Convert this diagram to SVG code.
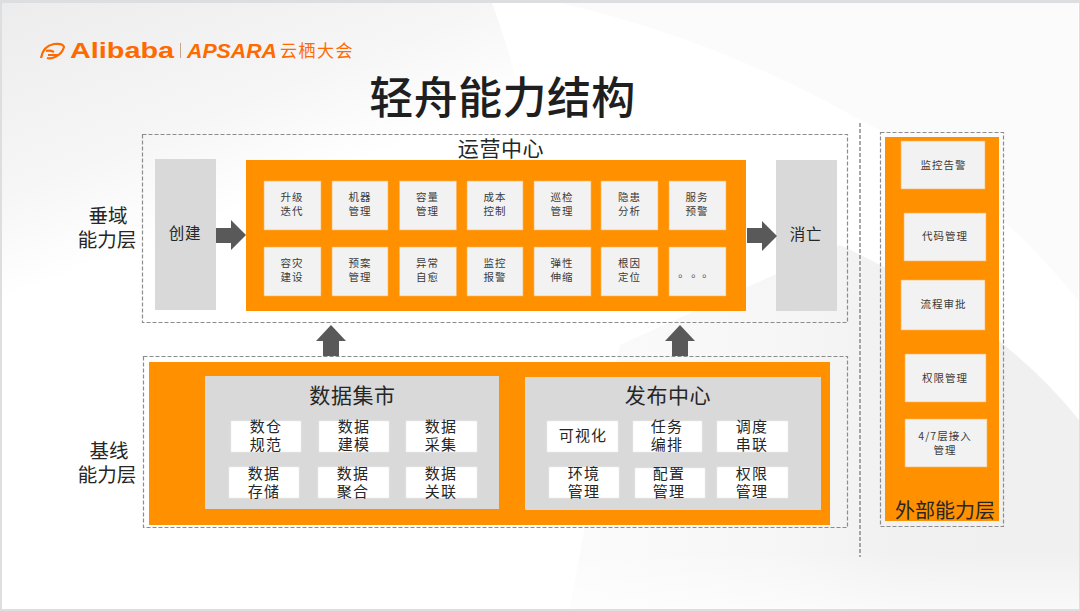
<svg xmlns="http://www.w3.org/2000/svg" width="1080" height="611" viewBox="0 0 1080 611">
<style>
text{font-family:"Noto Sans CJK SC","Noto Sans",sans-serif;fill:#262626;text-anchor:middle}
.dash{fill:none;stroke:#8c8c8c;stroke-width:1.2;stroke-dasharray:4 2}
.or{fill:#ff9000}
.tile{fill:#f2f2f2;stroke:#ffb65c;stroke-width:.6}
.gray{fill:#d9d9d9}
.wt{fill:#fff;stroke:#eee;stroke-width:.6}
.s{font-size:10.5px;letter-spacing:1px;fill:#3a3a3a}
.m{font-size:15px;letter-spacing:1.2px}
.c{font-size:15.5px;letter-spacing:.8px}
.l{font-size:19.500px}
.h{font-size:21px;letter-spacing:.6px}
.ar{fill:#595959}
.logo{font-family:"Liberation Sans",sans-serif;font-weight:700;text-anchor:start}
</style>
<defs>
<linearGradient id="bg" gradientUnits="userSpaceOnUse" x1="0" y1="0" x2="120" y2="310"><stop offset="0" stop-color="#ececec"/><stop offset=".55" stop-color="#f6f6f6"/><stop offset=".85" stop-color="#ffffff"/></linearGradient>
<linearGradient id="bg2" gradientUnits="userSpaceOnUse" x1="570" y1="0" x2="1000" y2="0"><stop offset="0" stop-color="#fbfbfb"/><stop offset=".5" stop-color="#f6f6f6"/><stop offset=".75" stop-color="#f1f1f1"/><stop offset="1" stop-color="#f0f0f0"/></linearGradient>
<linearGradient id="bg3" x1="0" y1="0" x2="0" y2="1"><stop offset="0" stop-color="#fff" stop-opacity="0"/><stop offset="1" stop-color="#fff" stop-opacity=".6"/></linearGradient>
</defs>
<g id="background">
<rect width="1080" height="611" fill="#dcdee0"/>
<rect x="2" y="3" width="1077" height="606" fill="#fff"/>
<path d="M2 3H492Q540 130 560 350L2 300Z" fill="url(#bg)"/>
<path d="M560 3H1078V300Q980 180 860 120Q720 40 560 3Z" fill="#fbfbfb"/>
<path d="M620 345L840 245Q1000 320 1079 420V609H570Q600 440 620 345Z" fill="url(#bg2)"/>
<rect x="560" y="550" width="519" height="59" fill="url(#bg3)"/>
</g>
<g id="logo">
<path d="M41 58Q43 46 54 44Q63 43 64 47Q62 54 55 57Q51 59 47 58M46 51Q50 50 54 52M48 55L58 55" fill="none" stroke="#ff6a00" stroke-width="2.2"/>
<text class="logo" x="70" y="58" font-size="22" textLength="104" lengthAdjust="spacingAndGlyphs" style="fill:#ff6a00">Alibaba</text>
<rect x="180" y="43" width="1" height="15" fill="#c9a58c"/>
<text class="logo" x="187" y="58" font-size="21" font-style="italic" textLength="90" lengthAdjust="spacingAndGlyphs" style="fill:#ff6a00">APSARA</text>
<text x="317" y="57" font-size="17" letter-spacing="1.500" style="fill:#ff6a00">云栖大会</text>
</g>
<text id="title" x="502.500" y="114" font-size="44" font-weight="500" letter-spacing=".4" style="fill:#1f1f1f">轻舟能力结构</text>
<g id="label-vertical"><text class="l"><tspan x="108" y="223">垂域</tspan><tspan x="107" y="247">能力层</tspan></text></g>
<g id="label-base"><text class="l"><tspan x="109" y="458">基线</tspan><tspan x="107" y="482">能力层</tspan></text></g>
<g id="frame-ops"><rect class="dash" x="142.500" y="134.500" width="705" height="188"/><text class="h" x="501" y="156">运营中心</text></g>
<g id="node-create"><rect class="gray" x="155" y="159" width="61" height="151"/><text class="c" x="185" y="239">创建</text></g>
<g id="node-destroy"><rect class="gray" x="776" y="160" width="61" height="151"/><text class="c" x="806" y="240">消亡</text></g>
<g id="ops-center">
<rect class="or" x="246" y="160" width="500" height="151"/>
<g id="t1"><rect class="tile" x="264" y="181" width="57" height="49"/><text class="s"><tspan x="292" y="201">升级</tspan><tspan x="292" y="215">迭代</tspan></text></g>
<g id="t2"><rect class="tile" x="332" y="181" width="56" height="49"/><text class="s"><tspan x="360" y="201">机器</tspan><tspan x="360" y="215">管理</tspan></text></g>
<g id="t3"><rect class="tile" x="399.500" y="181" width="57" height="49"/><text class="s"><tspan x="427.500" y="201">容量</tspan><tspan x="427.500" y="215">管理</tspan></text></g>
<g id="t4"><rect class="tile" x="467" y="181" width="56" height="49"/><text class="s"><tspan x="495" y="201">成本</tspan><tspan x="495" y="215">控制</tspan></text></g>
<g id="t5"><rect class="tile" x="534" y="181" width="57" height="49"/><text class="s"><tspan x="562" y="201">巡检</tspan><tspan x="562" y="215">管理</tspan></text></g>
<g id="t6"><rect class="tile" x="601" y="181" width="57" height="49"/><text class="s"><tspan x="629.500" y="201">隐患</tspan><tspan x="629.500" y="215">分析</tspan></text></g>
<g id="t7"><rect class="tile" x="669" y="181" width="57" height="49"/><text class="s"><tspan x="697" y="201">服务</tspan><tspan x="697" y="215">预警</tspan></text></g>
<g id="t8"><rect class="tile" x="264" y="247" width="57" height="49"/><text class="s"><tspan x="292" y="267">容灾</tspan><tspan x="292" y="281">建设</tspan></text></g>
<g id="t9"><rect class="tile" x="332" y="247" width="56" height="49"/><text class="s"><tspan x="360" y="267">预案</tspan><tspan x="360" y="281">管理</tspan></text></g>
<g id="t10"><rect class="tile" x="399.500" y="247" width="57" height="49"/><text class="s"><tspan x="427.500" y="267">异常</tspan><tspan x="427.500" y="281">自愈</tspan></text></g>
<g id="t11"><rect class="tile" x="467" y="247" width="56" height="49"/><text class="s"><tspan x="495" y="267">监控</tspan><tspan x="495" y="281">报警</tspan></text></g>
<g id="t12"><rect class="tile" x="534" y="247" width="57" height="49"/><text class="s"><tspan x="562" y="267">弹性</tspan><tspan x="562" y="281">伸缩</tspan></text></g>
<g id="t13"><rect class="tile" x="601" y="247" width="57" height="49"/><text class="s"><tspan x="629.500" y="267">根因</tspan><tspan x="629.500" y="281">定位</tspan></text></g>
<g id="t14"><rect class="tile" x="669" y="247" width="57" height="49"/><text class="s" x="684 697 708" y="277">。。。</text></g>
</g>
<g id="connectors">
<path class="ar" d="M216 228H231V220L246 235L231 250V243H216Z"/>
<path class="ar" d="M747 228H762V221L777 236L762 251V243H747Z"/>
<path class="ar" d="M331 325L346 341H339V356H323V341H316Z"/>
<path class="ar" d="M680 325L695 341H688V356H672V341H665Z"/>
<path class="dash" d="M860 123V557" style="stroke-width:1.5"/>
</g>
<g id="base-layer">
<rect class="dash" x="143.500" y="356.500" width="704" height="171"/>
<rect class="or" x="149" y="362" width="681" height="163"/>
</g>
<g id="data-mart">
<rect class="gray" x="205" y="376" width="294" height="133"/>
<text class="h" x="352.500" y="403">数据集市</text>
<g id="d1"><rect class="wt" x="231" y="421" width="70" height="31"/><text class="m"><tspan x="266" y="432">数仓</tspan><tspan x="266" y="450">规范</tspan></text></g>
<g id="d2"><rect class="wt" x="319" y="421" width="70" height="31"/><text class="m"><tspan x="354" y="432">数据</tspan><tspan x="354" y="450">建模</tspan></text></g>
<g id="d3"><rect class="wt" x="406" y="421" width="71" height="31"/><text class="m"><tspan x="441" y="432">数据</tspan><tspan x="441" y="450">采集</tspan></text></g>
<g id="d4"><rect class="wt" x="229" y="467" width="70" height="31"/><text class="m"><tspan x="264" y="479">数据</tspan><tspan x="264" y="497">存储</tspan></text></g>
<g id="d5"><rect class="wt" x="318" y="467" width="71" height="31"/><text class="m"><tspan x="353" y="479">数据</tspan><tspan x="353" y="497">聚合</tspan></text></g>
<g id="d6"><rect class="wt" x="406" y="467" width="71" height="31"/><text class="m"><tspan x="441" y="479">数据</tspan><tspan x="441" y="497">关联</tspan></text></g>
</g>
<g id="release-center">
<rect class="gray" x="525" y="377" width="296" height="133"/>
<text class="h" x="668" y="403">发布中心</text>
<g id="r1"><rect class="wt" x="547" y="421" width="71" height="31"/><text class="m" x="583" y="441">可视化</text></g>
<g id="r2"><rect class="wt" x="633" y="421" width="69" height="31"/><text class="m"><tspan x="667" y="432">任务</tspan><tspan x="667" y="450">编排</tspan></text></g>
<g id="r3"><rect class="wt" x="717" y="421" width="71" height="31"/><text class="m"><tspan x="752" y="432">调度</tspan><tspan x="752" y="450">串联</tspan></text></g>
<g id="r4"><rect class="wt" x="549" y="467" width="70" height="31"/><text class="m"><tspan x="584" y="479">环境</tspan><tspan x="584" y="497">管理</tspan></text></g>
<g id="r5"><rect class="wt" x="635" y="468" width="70" height="30"/><text class="m"><tspan x="669" y="479">配置</tspan><tspan x="669" y="497">管理</tspan></text></g>
<g id="r6"><rect class="wt" x="717" y="467" width="71" height="31"/><text class="m"><tspan x="752" y="479">权限</tspan><tspan x="752" y="497">管理</tspan></text></g>
</g>
<g id="external-layer">
<rect class="dash" x="880.500" y="132.500" width="123" height="394"/>
<rect class="or" x="885" y="137" width="114" height="384"/>
<g id="e1"><rect class="tile" x="901" y="141" width="84" height="48"/><text class="s" x="943.500" y="169">监控告警</text></g>
<g id="e2"><rect class="tile" x="904" y="213" width="82" height="48"/><text class="s" x="945" y="240">代码管理</text></g>
<g id="e3"><rect class="tile" x="901" y="280" width="84" height="50"/><text class="s" x="943.500" y="308">流程审批</text></g>
<g id="e4"><rect class="tile" x="905" y="354" width="81" height="48"/><text class="s" x="945" y="382">权限管理</text></g>
<g id="e5"><rect class="tile" x="905" y="419" width="82" height="48"/><text class="s"><tspan x="945" y="440">4/7层接入</tspan><tspan x="945" y="454">管理</tspan></text></g>
<text x="945" y="518" font-size="20">外部能力层</text>
</g>
</svg>
